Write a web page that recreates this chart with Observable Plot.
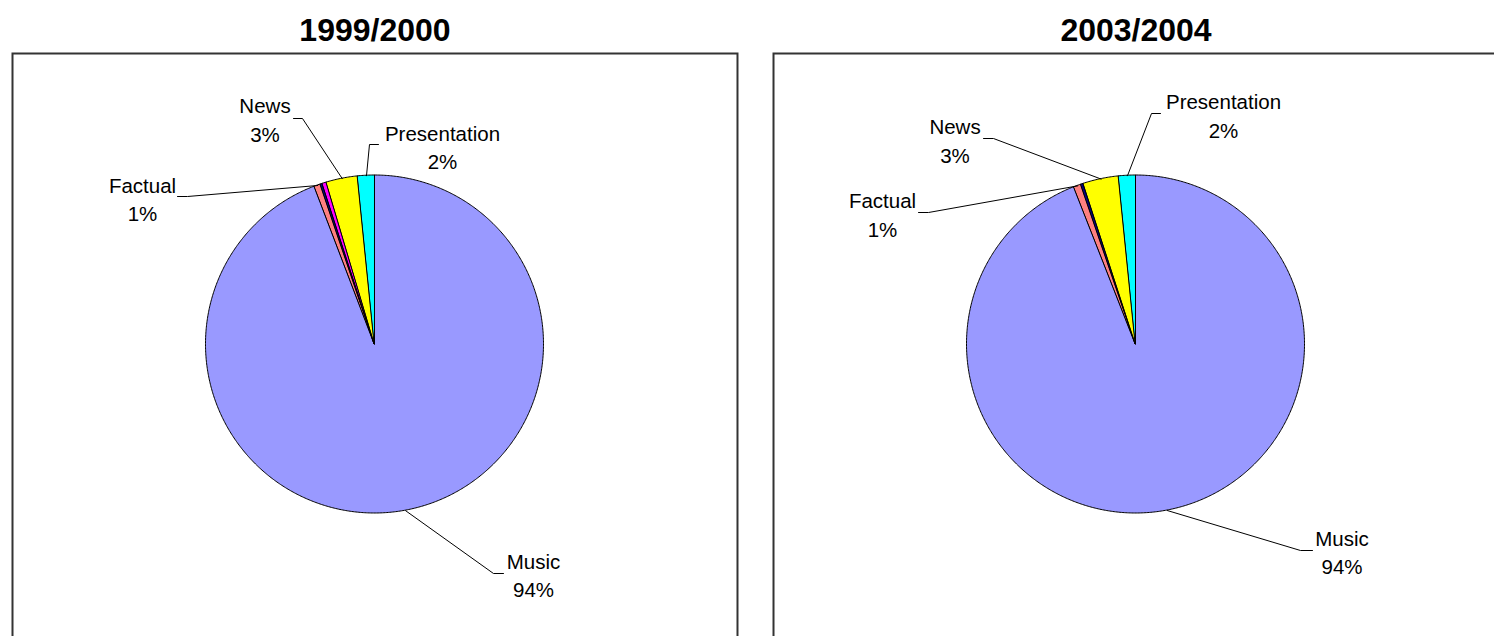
<!DOCTYPE html>
<html>
<head>
<meta charset="utf-8">
<script src="https://cdn.jsdelivr.net/npm/d3@7"></script>
<script src="https://cdn.jsdelivr.net/npm/@observablehq/plot@0.6"></script>
<style>
  html, body { margin: 0; padding: 0; background: #fff; }
  #wrap { width: 1494px; height: 636px; overflow: hidden; position: relative; }
</style>
</head>
<body>
<div id="wrap"></div>
<script>
// ---- data ----
const years = ["1999/2000", "2003/2004"];
const categories = ["Music", "Factual", "Other A", "Other B", "News", "Presentation"];
const colors = ["#9999FF", "#FF8080", "#000080", "#FF00FF", "#FFFF00", "#00FFFF"];
const share1999 = [94.2, 0.6, 0.2, 0.4, 3.0, 1.6];
const share2003 = [94.05, 0.7, 0.25, 0, 3.4, 1.6];
const labelled = ["Music", "Factual", "News", "Presentation"];

// ---- layout (page pixels) ----
const R = 169;
const centerX = {"1999/2000": 374.5, "2003/2004": 1135.5};
const centerY = 344;
const labelLayout = [
  {year: "1999/2000", cat: "Presentation", tx: 442, ty: 145.5, ex: 369, ey: 144, hx: 378},
  {year: "1999/2000", cat: "News", tx: 264.5, ty: 118, ex: 302, ey: 118, hx: 293},
  {year: "1999/2000", cat: "Factual", tx: 142, ty: 197.5, ex: 187, ey: 196, hx: 177},
  {year: "1999/2000", cat: "Music", tx: 533, ty: 573.5, ex: 493, ey: 573, hx: 503},
  {year: "2003/2004", cat: "Presentation", tx: 1223, ty: 114, ex: 1151, ey: 113, hx: 1160},
  {year: "2003/2004", cat: "News", tx: 954.5, ty: 139, ex: 993, ey: 138, hx: 983},
  {year: "2003/2004", cat: "Factual", tx: 882, ty: 213, ex: 928, ey: 212, hx: 918},
  {year: "2003/2004", cat: "Music", tx: 1341.5, ty: 550.5, ex: 1300, ey: 550, hx: 1312}
];

// ---- derived geometry ----
const sharesByYear = {"1999/2000": share1999, "2003/2004": share2003};
const sectorRows = [];
const midAngle = {};
years.forEach(yr => {
  const vals = sharesByYear[yr];
  const total = d3.sum(vals);
  let acc = 0;
  categories.forEach((c, i) => {
    const v = vals[i];
    if (!v) return;
    const a0 = acc / total * 2 * Math.PI;
    const a1 = (acc + v) / total * 2 * Math.PI;
    acc += v;
    midAngle[yr + "|" + c] = (a0 + a1) / 2;
    const n = Math.max(2, Math.ceil((a1 - a0) / (Math.PI / 360)));
    for (let k = 0; k <= n; k++) {
      const a = a0 + (a1 - a0) * k / n;
      sectorRows.push({year: yr, cat: c, px: R * Math.sin(a), py: R * Math.cos(a)});
    }
  });
});

const leaderRows = [];
const textRows = [];
labelLayout.forEach(L => {
  const a = midAngle[L.year + "|" + L.cat];
  const cx = centerX[L.year];
  const id = L.year + "|" + L.cat;
  leaderRows.push({id, year: L.year, x: R * Math.sin(a), y: R * Math.cos(a)});
  leaderRows.push({id, year: L.year, x: L.ex - cx, y: centerY - L.ey});
  leaderRows.push({id, year: L.year, x: L.hx - cx, y: centerY - L.ey});
  const v = sharesByYear[L.year][categories.indexOf(L.cat)];
  textRows.push({year: L.year, x: L.tx - cx, y: centerY - L.ty, text: L.cat + "\n" + Math.round(v) + "%"});
});

// ---- plot ----
const W = 1500, H = 660, mL = 11, mR = 1, mT = 52, mB = 0;
const pad = 0.0447;
const bw = (W - mL - mR) / (2 - pad) * (1 - pad);
const innerH = H - mT - mB;
const cyIn = centerY - mT;

const font = "'Liberation Sans', Arial, Helvetica, sans-serif";

const chart = Plot.plot({
  width: W, height: H,
  marginLeft: mL, marginRight: mR, marginTop: mT, marginBottom: mB,
  style: {maxWidth: "none", background: "white", fontFamily: font},
  fx: {domain: years, paddingInner: pad, paddingOuter: 0, round: false, axis: null},
  x: {domain: [-bw / 2, bw / 2], axis: null},
  y: {domain: [-(innerH - cyIn), cyIn], axis: null},
  color: {domain: categories, range: colors},
  marks: [
    Plot.frame({stroke: "#333", strokeWidth: 2, inset: 1}),
    Plot.area(sectorRows, {
      fx: "year", x1: d => 0, y1: d => 0, x2: "px", y2: "py",
      z: "cat", fill: "cat", stroke: "black", strokeWidth: 1, strokeLinejoin: "bevel"
    }),
    Plot.line(leaderRows, {fx: "year", x: "x", y: "y", z: "id", stroke: "black", strokeWidth: 1}),
    Plot.text(textRows, {
      fx: "year", x: "x", y: "y", text: "text",
      fontSize: 20.5, lineHeight: 1.38, lineAnchor: "middle", textAnchor: "middle",
      fontFamily: font, fill: "black"
    }),
    Plot.text(years, {
      fx: d => d, text: d => d, frameAnchor: "top", dy: -22,
      fontSize: 32, fontWeight: "bold", lineAnchor: "middle", fontFamily: font, fill: "black"
    })
  ]
});
document.getElementById("wrap").appendChild(chart);
</script>
</body>
</html>
